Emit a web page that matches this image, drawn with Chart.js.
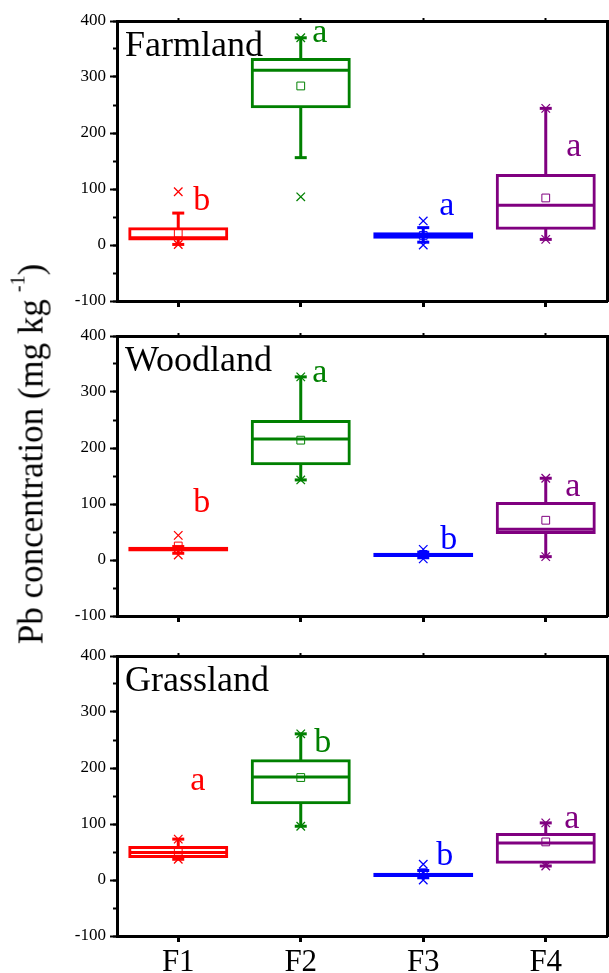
<!DOCTYPE html>
<html><head><meta charset="utf-8">
<script src="https://cdn.jsdelivr.net/npm/chart.js@4.4.0/dist/chart.umd.min.js"></script>
<style>
html,body{margin:0;padding:0;background:#fff;}
#wrap{position:relative;width:609px;height:973px;overflow:hidden;background:#fff;}
canvas{position:absolute;left:0;}
#ytitle{position:absolute;left:30.5px;top:454px;width:0;height:0;}
#ytitle .t{position:absolute;left:0;top:0;transform:translate(-50%,-50%) rotate(-90deg);white-space:nowrap;font-family:'Times New Roman','Liberation Serif',serif;font-size:35px;line-height:1;color:#000;}
#ytitle .sup{font-size:20px;position:relative;top:-18px;margin-left:7px;}
</style></head>
<body>
<div id="wrap">
  <canvas id="c1" width="609" height="320" style="top:0px"></canvas>
  <canvas id="c2" width="609" height="320" style="top:315px"></canvas>
  <canvas id="c3" width="609" height="338" style="top:635px"></canvas>
  <div id="ytitle"><span class="t">Pb concentration (mg kg<span class="sup">-1</span>)</span></div>
</div>
<script>
// ---------- data ----------
const categories = ['F1', 'F2', 'F3', 'F4'];
const colors = ['#ff0000', '#008000', '#0000ff', '#800080'];
const yMin = -100, yMax = 400, yStep = 100, yMinorStep = 50;
const panelTitles = ['Farmland', 'Woodland', 'Grassland'];

const farmlandQ1          = [10, 246, 13, 29];
const farmlandMedian      = [13, 312, 17, 71];
const farmlandQ3          = [30, 332, 21, 125];
const farmlandWhiskerLow  = [1, 156, 5, 10];
const farmlandWhiskerHigh = [57, 370, 31, 244];
const farmlandMean        = [21, 284, 17, 84];
const farmlandMin         = [1, 86, 0, 10];
const farmlandMax         = [95, 370, 43, 244];
const farmlandLetters     = ['b', 'a', 'a', 'a'];
const farmlandLetterY     = [62, 362, 54, 159];

const woodlandQ1          = [17, 171, 7, 48];
const woodlandMedian      = [20, 216, 9, 55];
const woodlandQ3          = [22, 248, 11, 102];
const woodlandWhiskerLow  = [12, 143, 4, 6];
const woodlandWhiskerHigh = [24, 327, 14, 146];
const woodlandMean        = [25, 214, 10, 71];
const woodlandMin         = [9, 143, 2, 6];
const woodlandMax         = [44, 327, 19, 146];
const woodlandLetters     = ['b', 'a', 'b', 'a'];
const woodlandLetterY     = [86, 318, 20, 114];

const grasslandQ1          = [41, 137, 7, 31];
const grasslandMedian      = [49, 184, 9, 66];
const grasslandQ3          = [59, 214, 11, 82];
const grasslandWhiskerLow  = [37, 96, 4, 25];
const grasslandWhiskerHigh = [73, 261, 17, 102];
const grasslandMean        = [51, 183, 13, 68];
const grasslandMin         = [37, 96, 0, 25];
const grasslandMax         = [73, 261, 28, 102];
const grasslandLetters     = ['a', 'b', 'b', 'a'];
const grasslandLetterY     = [161, 229, 27, 93];

// ---------- layout / style ----------
const FONT = "'Times New Roman', 'Liberation Serif', serif";
const letterDx = [[23.5, 19, 23.5, 28], [23.5, 19, 25.5, 27], [19.5, 22, 21.5, 26]];

const panelTextPlugin = {
  id: 'panelText',
  afterDatasetsDraw(chart, args, opts) {
    const {ctx, chartArea, scales} = chart;
    ctx.save();
    ctx.fillStyle = '#000';
    ctx.font = '36px ' + FONT;
    ctx.textAlign = 'left';
    ctx.textBaseline = 'alphabetic';
    ctx.fillText(opts.title, chartArea.left + 8, chartArea.top + 35);
    ctx.font = '34px ' + FONT;
    ctx.textAlign = 'center';
    opts.letters.forEach((l, i) => {
      ctx.fillStyle = colors[i];
      ctx.fillText(l, scales.x.getPixelForValue(i) + opts.dx[i], scales.y.getPixelForValue(opts.letterY[i]));
    });
    ctx.restore();
  }
};

function pointSet(data, style, radius, width) {
  return {
    type: 'line', data, showLine: false, clip: false,
    pointStyle: style, pointRadius: radius, pointHoverRadius: radius,
    pointBorderWidth: width, pointBorderColor: colors,
    pointBackgroundColor: 'rgba(0,0,0,0)', order: 1
  };
}

function buildChart(id, p, panelIndex, withLabels, xHeight, padBottom) {
  const boxes = p.q1.map((v, i) => [v, p.q3[i]]);
  const upper = p.q3.map((v, i) => p.wHigh[i] > v ? [v, p.wHigh[i]] : null);
  const lower = p.q1.map((v, i) => p.wLow[i] < v ? [p.wLow[i], v] : null);
  const whisker = (data) => ({
    type: 'bar', data, grouped: false, barThickness: 3,
    backgroundColor: colors, borderWidth: 0, inflateAmount: 0, order: 6
  });
  return new Chart(document.getElementById(id), {
    type: 'bar',
    data: {
      labels: categories,
      datasets: [
        whisker(upper),
        whisker(lower),
        {
          type: 'bar', data: boxes, grouped: false,
          barPercentage: 0.8, categoryPercentage: 1,
          borderWidth: 1, inflateAmount: 1, borderSkipped: false,
          borderColor: colors,
          backgroundColor: (c) => {
            const r = c.raw;
            return r && (r[1] - r[0]) <= 8 ? colors[c.dataIndex] : 'rgba(0,0,0,0)';
          },
          order: 5
        },
        pointSet(p.median, 'line', 48, 3),
        pointSet(p.wHigh, 'line', 6, 3),
        pointSet(p.wLow, 'line', 6, 3),
        pointSet(p.mean, 'rect', 5.5, 1),
        pointSet(p.min, 'crossRot', 6, 1.3),
        pointSet(p.max, 'crossRot', 6, 1.3)
      ]
    },
    options: {
      responsive: false, animation: false, devicePixelRatio: 1, events: [],
      layout: {autoPadding: false, padding: {top: 21, right: 2, bottom: padBottom, left: 0}},
      plugins: {
        legend: {display: false}, tooltip: {enabled: false},
        panelText: {title: panelTitles[panelIndex], letters: p.letters, letterY: p.letterY, dx: letterDx[panelIndex]}
      },
      scales: {
        x: {
          type: 'category', offset: true,
          grid: {offset: false, drawOnChartArea: false, tickLength: 6, tickWidth: 3, tickColor: '#000'},
          border: {width: 3, color: '#000'},
          ticks: {display: withLabels, color: '#000', font: {family: FONT, size: 31}, padding: 2, maxRotation: 0, autoSkip: false},
          afterFit: s => { s.height = xHeight; }
        },
        x2: {
          type: 'category', labels: categories, position: 'top', offset: true,
          grid: {offset: false, drawOnChartArea: false, tickLength: 3, tickWidth: 2, tickColor: '#000'},
          border: {width: 3, color: '#000'},
          ticks: {display: false},
          afterFit: s => { s.height = 0; }
        },
        y: {
          type: 'linear', position: 'left', weight: 1, min: yMin, max: yMax,
          ticks: {stepSize: yStep, color: '#000', font: {family: FONT, size: 17}, padding: 4},
          grid: {drawOnChartArea: false, tickLength: 7, tickWidth: 2, tickColor: '#000'},
          border: {width: 3, color: '#000'},
          afterFit: s => { s.width = 117; }
        },
        yMinor: {
          type: 'linear', position: 'left', weight: 0, min: yMin, max: yMax,
          ticks: {display: false, stepSize: yMinorStep},
          grid: {drawOnChartArea: false, tickLength: 4, tickWidth: 2, tickColor: '#000'},
          border: {display: false},
          afterFit: s => { s.width = 0; }
        },
        y2: {
          type: 'linear', position: 'right', min: yMin, max: yMax,
          ticks: {display: false},
          grid: {display: false, drawTicks: false},
          border: {width: 3, color: '#000'},
          afterFit: s => { s.width = 0; }
        }
      }
    },
    plugins: [panelTextPlugin]
  });
}

buildChart('c1', {
  q1: farmlandQ1, median: farmlandMedian, q3: farmlandQ3, wLow: farmlandWhiskerLow, wHigh: farmlandWhiskerHigh,
  mean: farmlandMean, min: farmlandMin, max: farmlandMax, letters: farmlandLetters, letterY: farmlandLetterY
}, 0, false, 10, 9);
buildChart('c2', {
  q1: woodlandQ1, median: woodlandMedian, q3: woodlandQ3, wLow: woodlandWhiskerLow, wHigh: woodlandWhiskerHigh,
  mean: woodlandMean, min: woodlandMin, max: woodlandMax, letters: woodlandLetters, letterY: woodlandLetterY
}, 1, false, 10, 9);
buildChart('c3', {
  q1: grasslandQ1, median: grasslandMedian, q3: grasslandQ3, wLow: grasslandWhiskerLow, wHigh: grasslandWhiskerHigh,
  mean: grasslandMean, min: grasslandMin, max: grasslandMax, letters: grasslandLetters, letterY: grasslandLetterY
}, 2, true, 37, 0);
</script>
</body></html>
